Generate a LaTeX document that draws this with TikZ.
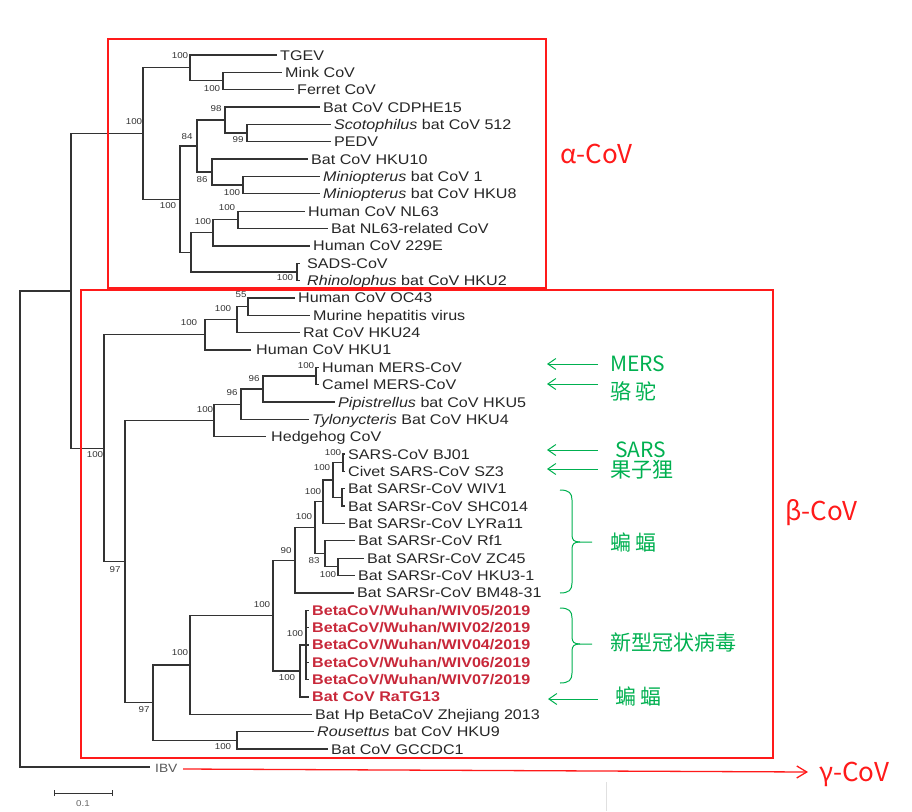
\documentclass[tikz,border=0pt]{standalone}
\usepackage{fontspec}
\newfontfamily\treefont[FakeStretch=1.15]{Liberation Sans}
\newfontfamily\cjk{Noto Sans CJK SC}
\usetikzlibrary{arrows.meta}
\definecolor{boxred}{HTML}{FF1A1A}
\definecolor{annog}{HTML}{00B050}
\definecolor{seqred}{HTML}{C8283A}
\definecolor{branch}{HTML}{333333}
\begin{document}
\begin{tikzpicture}[x=1pt,y=-1pt,
  br/.style={draw=branch, line width=1.3pt},
  leaf/.style={anchor=west, inner xsep=3pt, inner ysep=0pt, text height=10pt, text depth=0pt,
    text=black!85, font=\treefont\fontsize{14}{14}\selectfont},
  hl/.style={leaf, text=seqred, font=\treefont\bfseries\fontsize{14}{14}\selectfont},
  bs/.style={inner sep=0pt, text=branch, font=\treefont\fontsize{8.5}{8.5}\selectfont},
  cov/.style={anchor=west, inner sep=0pt, text height=18pt, text depth=0pt, text=boxred,
    font=\cjk\fontsize{26}{26}\selectfont},
  ann/.style={anchor=west, inner sep=0pt, text height=15pt, text depth=0pt, text=annog,
    font=\cjk\fontsize{21}{21}\selectfont},
  annz/.style={ann, font=\cjk\fontsize{21}{21}\selectfont},
  garrow/.style={draw=annog, line width=1pt, -{Straight Barb[length=8pt,width=11pt]}},
  gline/.style={draw=annog, line width=1pt},
  redbox/.style={draw=boxred, line width=1.6pt}
]
\useasboundingbox (0,0) rectangle (912,811);

% ---------------- alpha leaves ----------------
\node[leaf] (tgev)   at (277,55)     {TGEV};
\node[leaf] (mink)   at (282,72.35)  {Mink CoV};
\node[leaf] (ferret) at (294,89.7)   {Ferret CoV};
\node[leaf] (cdphe)  at (320,107.05) {Bat CoV CDPHE15};
\node[leaf] (scoto)  at (331,124.4)  {\textit{Scotophilus} bat CoV 512};
\node[leaf] (pedv)   at (331,141.75) {PEDV};
\node[leaf] (hku10)  at (308,159.1)  {Bat CoV HKU10};
\node[leaf] (mini1)  at (320,176.45) {\textit{Miniopterus} bat CoV 1};
\node[leaf] (mini8)  at (320,193.8)  {\textit{Miniopterus} bat CoV HKU8};
\node[leaf] (nl63)   at (305,211.15) {Human CoV NL63};
\node[leaf] (nl63r)  at (328,228.5)  {Bat NL63-related CoV};
\node[leaf] (e229)   at (310,245.85) {Human CoV 229E};
\node[leaf, inner xsep=7pt] (sads)  at (300,263.2)  {SADS-CoV};
\node[leaf, inner xsep=7pt] (rhino) at (300,280.55) {\textit{Rhinolophus} bat CoV HKU2};

% ---------------- beta leaves ----------------
\node[leaf] (oc43)  at (295,297.9)  {Human CoV OC43};
\node[leaf] (mhv)   at (310,315.25) {Murine hepatitis virus};
\node[leaf] (rat)   at (300,332.6)  {Rat CoV HKU24};
\node[leaf, inner xsep=5pt] (hku1)  at (251,349.95) {Human CoV HKU1};
\node[leaf] (hmers) at (319,367.3)  {Human MERS-CoV};
\node[leaf] (cmers) at (319,384.65) {Camel MERS-CoV};
\node[leaf] (pipi)  at (335,402)    {\textit{Pipistrellus} bat CoV HKU5};
\node[leaf] (tylo)  at (309,419.35) {\textit{Tylonycteris} Bat CoV HKU4};
\node[leaf, inner xsep=5pt] (hedge) at (266,436.7)  {Hedgehog CoV};
\node[leaf] (bj01)  at (345,454.05) {SARS-CoV BJ01};
\node[leaf] (sz3)   at (345,471.4)  {Civet SARS-CoV SZ3};
\node[leaf] (wiv1)  at (345,488.75) {Bat SARSr-CoV WIV1};
\node[leaf] (shc)   at (345,506.1)  {Bat SARSr-CoV SHC014};
\node[leaf] (lyr)   at (345,523.45) {Bat SARSr-CoV LYRa11};
\node[leaf] (rf1)   at (355,540.8)  {Bat SARSr-CoV Rf1};
\node[leaf] (zc45)  at (364,558.15) {Bat SARSr-CoV ZC45};
\node[leaf] (hku3)  at (355,575.5)  {Bat SARSr-CoV HKU3-1};
\node[leaf] (bm48)  at (354,592.85) {Bat SARSr-CoV BM48-31};
\node[hl] (w05) at (309,610.2)  {BetaCoV/Wuhan/WIV05/2019};
\node[hl] (w02) at (309,627.55) {BetaCoV/Wuhan/WIV02/2019};
\node[hl] (w04) at (309,644.9)  {BetaCoV/Wuhan/WIV04/2019};
\node[hl] (w06) at (309,662.25) {BetaCoV/Wuhan/WIV06/2019};
\node[hl] (w07) at (309,679.6)  {BetaCoV/Wuhan/WIV07/2019};
\node[hl] (ratg) at (309,696.95) {Bat CoV RaTG13};
\node[leaf] (zj)  at (312,714.3)  {Bat Hp BetaCoV Zhejiang 2013};
\node[leaf] (rou) at (314,731.65) {\textit{Rousettus} bat CoV HKU9};
\node[leaf] (gcc) at (328,749)    {Bat CoV GCCDC1};
\node[leaf, inner xsep=5pt, text=black!65, font=\treefont\fontsize{12}{12}\selectfont] (ibv) at (150,767) {IBV};

% ---------------- internal nodes ----------------
\coordinate (atm)   at (223,80.5);
\coordinate (at)    at (190,67.8);
\coordinate (a99)   at (247,133.1);
\coordinate (a98)   at (225,120.1);
\coordinate (am)    at (243,185.1);
\coordinate (a86)   at (212,172.1);
\coordinate (a84)   at (197,146.1);
\coordinate (anl)   at (238,219.8);
\coordinate (anl2)  at (213,232.8);
\coordinate (asads) at (297,271.9);
\coordinate (ab2)   at (191,252.4);
\coordinate (abot)  at (180,199.2);
\coordinate (aroot) at (143,133.5);
\coordinate (boc)   at (248,306.6);
\coordinate (bocr)  at (237,319.6);
\coordinate (bemb)  at (205,334.8);
\coordinate (bmers) at (316,376);
\coordinate (b96a)  at (263,389);
\coordinate (b96b)  at (241,404.2);
\coordinate (bmerb) at (214,420.5);
\coordinate (sbj)   at (343,462.7);
\coordinate (swiv)  at (342,497.4);
\coordinate (sc)    at (333,480.1);
\coordinate (sd)    at (323,501.8);
\coordinate (szc)   at (338,566.8);
\coordinate (s83)   at (325,553.8);
\coordinate (se)    at (315,527.8);
\coordinate (s90)   at (295,560.3);
\coordinate (wn)    at (306,644.9);
\coordinate (wr)    at (300,670.9);
\coordinate (ss)    at (273,615.6);
\coordinate (szj)   at (190,665);
\coordinate (s9)    at (237,740.3);
\coordinate (s97)   at (153,702.7);
\coordinate (b97)   at (125,561.6);
\coordinate (broot) at (104,448.2);
\coordinate (ab)    at (71,290.9);
\coordinate (root)  at (20,529);

% ---------------- branches ----------------
\foreach \p/\c in {root/ab, root/ibv, ab/aroot, ab/broot,
  aroot/at, aroot/abot, at/tgev, at/atm, atm/mink, atm/ferret,
  abot/a84, abot/ab2, a84/a98, a84/a86, a98/cdphe, a98/a99, a99/scoto, a99/pedv,
  a86/hku10, a86/am, am/mini1, am/mini8, ab2/anl2, ab2/asads, anl2/anl, anl2/e229,
  anl/nl63, anl/nl63r, asads/sads, asads/rhino,
  broot/bemb, broot/b97, bemb/bocr, bemb/hku1, bocr/boc, bocr/rat, boc/oc43, boc/mhv,
  b97/bmerb, b97/s97, bmerb/b96b, bmerb/hedge, b96b/b96a, b96b/tylo,
  b96a/bmers, b96a/pipi, bmers/hmers, bmers/cmers,
  s97/szj, s97/s9, szj/ss, szj/zj, ss/s90, ss/wr, s90/se, s90/bm48,
  se/sd, se/s83, sd/sc, sd/lyr, sc/sbj, sc/swiv, sbj/bj01, sbj/sz3,
  swiv/wiv1, swiv/shc, s83/rf1, s83/szc, szc/zc45, szc/hku3,
  wr/wn, wr/ratg, wn/w05, wn/w02, wn/w04, wn/w06, wn/w07, s9/rou, s9/gcc}
  \draw[br] (\p) |- (\c);

% ---------------- bootstrap values ----------------
\node[bs] (la1)  at (134,122) {100};
\node[bs] (la2)  at (180,56)  {100};
\node[bs] (la3)  at (212,89)  {100};
\node[bs] (la4)  at (168,206) {100};
\node[bs] (la5)  at (187,137) {84};
\node[bs] (la6)  at (216,109) {98};
\node[bs] (la7)  at (238,140) {99};
\node[bs] (la8)  at (202,180) {86};
\node[bs] (la9)  at (232,193) {100};
\node[bs] (la10) at (203,222) {100};
\node[bs] (la11) at (227,208) {100};
\node[bs] (la12) at (285,278) {100};
\node[bs] (lb1)  at (241,295) {55};
\node[bs] (lb2)  at (223,309) {100};
\node[bs] (lb3)  at (189,323) {100};
\node[bs] (lb4)  at (306,366) {100};
\node[bs] (lb5)  at (254,379) {96};
\node[bs] (lb6)  at (232,393) {96};
\node[bs] (lb7)  at (205,410) {100};
\node[bs] (lb8)  at (95,455)  {100};
\node[bs] (lb9)  at (115,570) {97};
\node[bs] (lb10) at (333,453) {100};
\node[bs] (lb11) at (322,468) {100};
\node[bs] (lb12) at (313,492) {100};
\node[bs] (lb13) at (304,517) {100};
\node[bs] (lb14) at (286,551) {90};
\node[bs] (lb15) at (314,561) {83};
\node[bs] (lb16) at (328,575) {100};
\node[bs] (lb17) at (295,634) {100};
\node[bs] (lb18) at (287,678) {100};
\node[bs] (lb19) at (262,605) {100};
\node[bs] (lb20) at (180,653) {100};
\node[bs] (lb21) at (144,710) {97};
\node[bs] (lb22) at (223,747) {100};

% ---------------- scale bar ----------------
\coordinate (sb1) at (54,793);
\coordinate (sb2) at (112,793);
\draw[draw=branch, line width=1pt] (sb1) -- (sb2);
\draw[draw=branch, line width=1pt] ([yshift=-3pt]sb1) -- ([yshift=3pt]sb1);
\draw[draw=branch, line width=1pt] ([yshift=-3pt]sb2) -- ([yshift=3pt]sb2);
\node[bs, text=black!60] (sbl) at (83,804) {0.1};

% ---------------- red boxes and group labels ----------------
\draw[redbox] (108,39) rectangle (546,288);
\draw[redbox] (81,290) rectangle (773,758);
\node[cov] (alpha) at (560,154) {α-CoV};
\node[cov] (beta)  at (785,511) {β-CoV};
\node[cov] (gamma) at (819,772) {γ-CoV};
\coordinate (gs) at (183,769);
\coordinate (ge) at (808,772);
\draw[draw=boxred, line width=1.3pt, -{Straight Barb[length=10pt,width=12pt]}] (gs) -- (ge);

% ---------------- green annotations ----------------
\node[ann]  (tmers)  at (610,364) {MERS};
\node[annz] (tcamel) at (610,392) {骆 驼};
\node[ann]  (tsars)  at (615,450) {SARS};
\node[annz] (tcivet) at (610,470) {果子狸};
\node[annz] (tbat1)  at (610,543) {蝙 蝠};
\node[annz] (tncov)  at (610,643) {新型冠状病毒};
\node[annz] (tbat2)  at (615,697) {蝙 蝠};
\coordinate (m1a) at (598,364); \coordinate (m1b) at (547,364);
\coordinate (m2a) at (598,384); \coordinate (m2b) at (547,384);
\coordinate (m3a) at (598,450); \coordinate (m3b) at (547,450);
\coordinate (m4a) at (598,469); \coordinate (m4b) at (547,469);
\coordinate (m5a) at (598,699); \coordinate (m5b) at (548,699);
\foreach \a/\b in {m1a/m1b, m2a/m2b, m3a/m3b, m4a/m4b, m5a/m5b}
  \draw[garrow] (\a) -- (\b);

% braces
\draw[gline] (560,490) .. controls (569,490) and (572,493) .. (572,500) -- (572,535)
  .. controls (572,540) and (574,542) .. (580,542) -- (592,542);
\draw[gline] (560,593) .. controls (569,593) and (572,590) .. (572,583) -- (572,549)
  .. controls (572,544) and (574,542) .. (580,542);
\draw[gline] (560,608) .. controls (569,608) and (572,611) .. (572,618) -- (572,637)
  .. controls (572,642) and (574,644) .. (580,644) -- (592,644);
\draw[gline] (560,683) .. controls (569,683) and (572,680) .. (572,673) -- (572,651)
  .. controls (572,646) and (574,644) .. (580,644);

% faint mark at the bottom
\draw[draw=black!12, line width=0.8pt] (606,782) -- (606,811);
\end{tikzpicture}
\end{document}
